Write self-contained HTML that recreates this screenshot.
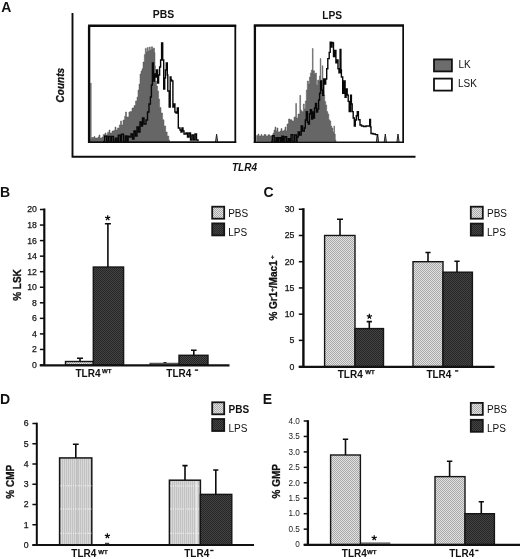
<!DOCTYPE html>
<html><head><meta charset="utf-8"><title>Figure</title>
<style>
html,body{margin:0;padding:0;background:#fff;}
body{width:520px;height:559px;overflow:hidden;font-family:"Liberation Sans",sans-serif;}
svg{display:block;font-family:"Liberation Sans",sans-serif;fill:#111;will-change:transform;-webkit-font-smoothing:antialiased;}
.tk{fill:#141414;stroke:#141414;stroke-width:0.25px;}
.tk0{fill:#1c1c1c;}
</style></head><body>
<svg width="520" height="559" viewBox="0 0 520 559">
<defs>
<pattern id="pl" width="2" height="2" patternUnits="userSpaceOnUse"><rect width="2" height="2" fill="#e2e2e2"/><rect width="1" height="1" fill="#a8a8a8"/><rect x="1" y="1" width="1" height="1" fill="#a8a8a8"/></pattern>
<pattern id="pd" width="2" height="2" patternUnits="userSpaceOnUse"><rect width="2" height="2" fill="#444"/><rect width="1" height="1" fill="#262626"/><rect x="1" y="1" width="1" height="1" fill="#262626"/></pattern>
<pattern id="pv" width="2" height="2" patternUnits="userSpaceOnUse"><rect width="2" height="2" fill="#d8d8d8"/><rect width="1" height="2" fill="#c2c2c2"/></pattern>
</defs>
<rect width="520" height="559" fill="#fff"/>

<g id="A">
<text x="1.2" y="11.5" font-size="14" font-weight="bold">A</text>
<path d="M72.5,13V156.8H415.5" stroke="#0c0c0c" stroke-width="1.9" fill="none"/>
<text transform="translate(63.5,85.2) rotate(-90)" font-size="10" font-weight="bold" text-anchor="middle" stroke="#111" stroke-width="0.3" font-style="italic">Counts</text>
<text x="163.4" y="18.1" font-size="10.4" font-weight="bold" text-anchor="middle">PBS</text>
<text x="332.2" y="18.6" font-size="10.2" font-weight="bold" text-anchor="middle">LPS</text>
<text x="232" y="171" font-size="10" font-weight="bold" font-style="italic">TLR4</text>
<path d="M90.6,141.4V139.0H91.5V137.5H94.0V136.5H95.0V138.0H98.0V137.0H99.0V135.0H100.0V138.0H102.0V137.0H103.2V134.6H105.0V133.0H106.0V135.0H107.5V132.4H109.0V130.0H110.0V133.0H112.0V131.0H113.9V130.3H115.0V127.0H116.0V130.0H117.5V128.0H119.3V124.9H120.5V121.0H121.5V125.0H123.0V120.0H124.6V116.3H125.5V112.0H126.5V117.0H128.9V112.0H130.0V111.6H132.0V108.0H134.0V105.5H135.5V101.0H137.0V97.0H138.0V90.0H139.0V84.0H140.0V74.0H141.0V71.0H142.0V68.8H143.0V62.0H144.3V54.5H145.3V48.4H146.3V52.0H147.2V47.5H148.2V51.0H149.3V47.0H150.3V50.0H151.4V46.8H152.6V49.0H153.6V48.0H154.5V52.5H155.0V66.0H155.5V81.0H156.5V86.0H157.5V91.0H158.6V99.0H159.6V107.5H161.0V113.0H162.6V119.8H164.0V126.0H165.7V132.0H167.2V136.0H168.8V140.0H169.5V141.0V141.4Z" fill="#666" stroke="#5a5a5a" stroke-width="0.5"/>
<path d="M90.9,141.4V83" stroke="#6a6a6a" stroke-width="1.3"/>
<path d="M103.0,141.4H104.7V136.2H106.7V141.4H108.3V136.4H110.1V141.4H111.6V136.4H113.4V141.4H115.3V138.2H116.8V141.4H118.3V135.1H120.1V141.4H121.5V134.3H123.5V141.4H125.3V135.9H126.8V141.4H128.1V136.3H129.0V137.0H131.0V134.0H132.5V139.0H134.0V131.0H135.5V136.0H137.0V127.0H138.5V132.0H140.0V122.0H141.5V126.0H142.5V118.0H144.0V124.0H146.0V120.0H147.5V112.0H149.0V104.0H150.4V97.0H151.4V85.0H152.4V63.0H153.4V81.0H154.5V74.0H155.5V77.0H156.5V70.0H157.6V83.0H158.6V75.0H159.6V67.0H160.6V60.0H161.6V43.0H162.7V60.0H163.7V89.0H164.7V78.0H165.5V70.0H166.3V63.0H167.3V75.0H167.8V91.0H169.2V107.0H170.2V77.0H171.0V80.0H171.8V81.0H172.9V107.0H174.0V104.0H174.9V112.0H176.0V113.0H177.3V108.0H178.3V128.0H180.0V130.0H181.0V132.0H182.0V128.0H183.0V131.0H184.0V134.0H186.0V133.0H187.5V137.0H189.0V133.0H190.5V140.0H192.0V135.0H193.5V140.0H195.0V134.0H196.5V140.0H198.0V141.0" fill="none" stroke="#080808" stroke-width="1.4"/>
<path d="M215.5,142L216.6,134.2L217.7,142" fill="#999" stroke="#111" stroke-width="0.9"/>
<path d="M256.6,141.4V135.5H258.0V134.0H259.0V136.0H261.0V134.5H262.0V136.0H264.0V134.5H266.0V136.0H268.0V134.8H270.0V136.0H272.0V135.0H273.0V133.0H274.0V130.0H275.0V127.0H276.0V131.0H277.0V128.0H278.0V132.0H280.0V131.0H281.0V128.5H282.0V131.0H284.0V130.0H285.0V127.0H286.0V131.0H287.0V124.0H288.5V119.0H290.0V119.8H292.0V121.0H294.0V117.0H295.7V103.5H296.5V118.0H298.0V114.0H299.8V95.3H300.6V110.0H301.5V111.6H303.3V104.0H304.3V109.0H305.3V101.0H306.3V90.0H307.3V81.0H308.4V84.0H309.4V77.0H310.4V72.9H311.4V70.0H312.4V48.4H313.1V70.8H314.5V74.0H315.5V73.0H316.5V85.0H317.6V80.0H318.6V81.0H319.4V76.0H320.2V58.6H320.9V83.0H321.6V80.0H322.2V65.7H322.9V91.0H323.8V95.0H324.7V101.4H325.7V105.0H326.7V111.6H327.8V114.0H328.8V119.8H329.8V121.0H330.8V126.0H331.8V128.0H332.9V132.0H333.9V126.0H334.5V134.0H335.3V140.0H336.0V141.0V141.4Z" fill="#666" stroke="#5a5a5a" stroke-width="0.5"/>
<path d="M271.0,141.4H272.4V135.6H274.2V141.4H276.0V137.8H277.4V141.4H278.8V137.7H280.5V141.4H281.9V136.3H283.3V141.4H284.8V136.8H286.6V141.4H288.3V138.6H289.7V141.4H291.1V134.8H292.9V141.4H294.7V135.0H296.5V141.4H297.0V137.0H298.2V132.0H299.6V135.0H301.2V126.0H302.6V131.0H304.3V128.0H305.3V120.0H306.3V111.6H307.4V122.0H308.4V124.0H309.4V114.0H310.4V109.6H311.6V119.0H312.6V112.0H313.5V118.0H314.5V108.0H315.5V103.5H316.5V112.0H317.6V109.0H318.6V100.0H319.6V93.3H320.6V81.0H321.6V90.0H322.7V95.3H323.7V79.0H324.7V84.0H325.7V79.0H326.7V68.8H327.8V58.6H329.2V52.4H330.2V42.2H331.2V47.0H331.9V42.5H332.9V43.0H333.5V56.5H334.9V50.4H335.9V62.7H337.0V60.0H338.0V68.8H339.0V72.9H340.1V49.4H340.9V70.0H341.4V77.0H342.7V93.3H344.0V81.0H345.1V97.3H346.1V89.0H347.2V95.0H348.2V101.4H349.2V111.6H350.6V95.3H351.4V104.0H352.2V111.6H353.2V118.0H354.3V126.0H355.3V120.0H356.3V115.7H357.3V111.6H358.4V119.8H360.0V125.0H361.5V126.0H363.6V126.5H366.0V126.0H369.0V126.0H369.7V119.5H370.5V127.0H371.0V133.5H373.0V134.0H375.4V134.6H377.5V141.0" fill="none" stroke="#080808" stroke-width="1.4"/>
<path d="M376.4,142L377.5,134L378.6,142M384.2,142L385.3,134L386.4,142M396.9,142L398,134L399.1,142" fill="#999" stroke="#111" stroke-width="0.9"/>
<path d="M89.1,143V25.8" stroke="#0c0c0c" stroke-width="2.4" fill="none"/><path d="M88.1,25.8H236.2" stroke="#0c0c0c" stroke-width="2.4"/><path d="M235.3,25V143" stroke="#0c0c0c" stroke-width="1.8"/><path d="M88.1,142.1H236.2" stroke="#0c0c0c" stroke-width="1.8"/>
<path d="M254.9,143V25.5" stroke="#0c0c0c" stroke-width="2.3" fill="none"/><path d="M253.8,25.5H404" stroke="#0c0c0c" stroke-width="2.4"/><path d="M403.15,25V143" stroke="#0c0c0c" stroke-width="1.7"/><path d="M253.8,142.3H404" stroke="#0c0c0c" stroke-width="1.6"/>
<rect x="434" y="59.4" width="17.9" height="12" fill="#6c6c6c" stroke="#111" stroke-width="1.8"/>
<rect x="434" y="78.6" width="17.9" height="12" fill="#fff" stroke="#111" stroke-width="1.8"/>
<text x="458.4" y="67.6" font-size="10">LK</text><text x="458" y="87" font-size="10">LSK</text>
</g>
<g id="B">
<text x="-0.1" y="196.6" font-size="14" font-weight="bold">B</text>
<rect x="65.5" y="361.50125" width="27.799999999999997" height="3.4987499999999727" fill="url(#pl)" stroke="#151515" stroke-width="1.4"/>
<path d="M80,361.5V358.3M77,358.3H83" stroke="#0c0c0c" stroke-width="1.6" fill="none"/>
<rect x="93.3" y="267.03499999999997" width="30.299999999999997" height="97.96500000000003" fill="url(#pd)" stroke="#151515" stroke-width="1.4"/>
<path d="M107.9,267V223.7M104.9,223.7H110.9" stroke="#0c0c0c" stroke-width="1.6" fill="none"/>
<path d="M107.70,218.00L107.70,215.30M107.70,218.00L110.27,217.17M107.70,218.00L109.29,220.18M107.70,218.00L106.11,220.18M107.70,218.00L105.13,217.17" stroke="#0c0c0c" stroke-width="1.25" fill="none"/><circle cx="107.7" cy="218" r="0.9" fill="#0c0c0c"/>
<rect x="150" y="363.2" width="29" height="1.8" fill="#999" stroke="#222" stroke-width="0.8"/>
<path d="M163.5,362.6H166.5" stroke="#111" stroke-width="1"/>
<rect x="179" y="355.28125" width="29" height="9.71875" fill="url(#pd)" stroke="#151515" stroke-width="1.4"/>
<path d="M193.8,355.5V350.2M191.0,350.2H196.60000000000002" stroke="#0c0c0c" stroke-width="1.6" fill="none"/>
<path d="M44.3,208.5V365.0" stroke="#0c0c0c" stroke-width="2.2" fill="none"/>
<path d="M39.9,365.00H44.3" stroke="#0c0c0c" stroke-width="1.5"/>
<text x="36.8" y="367.93" font-size="8.7" text-anchor="end" class="tk">0</text>
<path d="M39.9,349.45H44.3" stroke="#0c0c0c" stroke-width="1.5"/>
<text x="36.8" y="352.38" font-size="8.7" text-anchor="end" class="tk">2</text>
<path d="M39.9,333.90H44.3" stroke="#0c0c0c" stroke-width="1.5"/>
<text x="36.8" y="336.83" font-size="8.7" text-anchor="end" class="tk">4</text>
<path d="M39.9,318.35H44.3" stroke="#0c0c0c" stroke-width="1.5"/>
<text x="36.8" y="321.28" font-size="8.7" text-anchor="end" class="tk">6</text>
<path d="M39.9,302.80H44.3" stroke="#0c0c0c" stroke-width="1.5"/>
<text x="36.8" y="305.73" font-size="8.7" text-anchor="end" class="tk">8</text>
<path d="M39.9,287.25H44.3" stroke="#0c0c0c" stroke-width="1.5"/>
<text x="36.8" y="290.18" font-size="8.7" text-anchor="end" class="tk">10</text>
<path d="M39.9,271.70H44.3" stroke="#0c0c0c" stroke-width="1.5"/>
<text x="36.8" y="274.63" font-size="8.7" text-anchor="end" class="tk">12</text>
<path d="M39.9,256.15H44.3" stroke="#0c0c0c" stroke-width="1.5"/>
<text x="36.8" y="259.08" font-size="8.7" text-anchor="end" class="tk">14</text>
<path d="M39.9,240.60H44.3" stroke="#0c0c0c" stroke-width="1.5"/>
<text x="36.8" y="243.53" font-size="8.7" text-anchor="end" class="tk">16</text>
<path d="M39.9,225.05H44.3" stroke="#0c0c0c" stroke-width="1.5"/>
<text x="36.8" y="227.98" font-size="8.7" text-anchor="end" class="tk">18</text>
<path d="M39.9,209.50H44.3" stroke="#0c0c0c" stroke-width="1.5"/>
<text x="36.8" y="212.43" font-size="8.7" text-anchor="end" class="tk">20</text>
<path d="M39.8,365.3H229.5" stroke="#111" stroke-width="2.2"/>
<text transform="translate(21.3,285) rotate(-90)" font-size="10" font-weight="bold" text-anchor="middle" stroke="#111" stroke-width="0.3">% LSK</text>
<text x="75.5" y="376.8" font-size="10" font-weight="bold">TLR4<tspan dx="1.5" dy="-3.5" font-size="6.1" stroke="#111" stroke-width="0.25">WT</tspan></text>
<text x="166.3" y="376.8" font-size="10" font-weight="bold">TLR4</text><path d="M194.8,370.1h3.3" stroke="#111" stroke-width="1.4"/>
<rect x="212.20" y="206.70" width="12.00" height="12.00" fill="url(#pl)" stroke="#151515" stroke-width="1.8"/>
<rect x="212.20" y="223.40" width="12.00" height="12.00" fill="url(#pd)" stroke="#151515" stroke-width="1.8"/>
<text x="228.2" y="216.5" font-size="10">PBS</text>
<text x="228.2" y="235.7" font-size="10">LPS</text>
</g>
<g id="C">
<text x="263.5" y="197.1" font-size="14" font-weight="bold">C</text>
<rect x="324.6" y="235.47500000000002" width="30.399999999999977" height="131.125" fill="url(#pl)" stroke="#151515" stroke-width="1.4"/>
<path d="M340,235V219.3M337,219.3H343" stroke="#0c0c0c" stroke-width="1.6" fill="none"/>
<rect x="355" y="328.57375" width="28.5" height="38.026250000000005" fill="url(#pd)" stroke="#151515" stroke-width="1.4"/>
<path d="M369.3,328.5V321.6M366.7,321.6H371.90000000000003" stroke="#0c0c0c" stroke-width="1.6" fill="none"/>
<path d="M369.40,316.50L369.40,313.80M369.40,316.50L371.97,315.67M369.40,316.50L370.99,318.68M369.40,316.50L367.81,318.68M369.40,316.50L366.83,315.67" stroke="#0c0c0c" stroke-width="1.25" fill="none"/><circle cx="369.4" cy="316.5" r="0.9" fill="#0c0c0c"/>
<rect x="413" y="261.70000000000005" width="30" height="104.89999999999998" fill="url(#pl)" stroke="#151515" stroke-width="1.4"/>
<path d="M428,261.5V252.5M425.4,252.5H430.6" stroke="#0c0c0c" stroke-width="1.6" fill="none"/>
<rect x="443" y="272.19000000000005" width="29.399999999999977" height="94.40999999999997" fill="url(#pd)" stroke="#151515" stroke-width="1.4"/>
<path d="M457,272V261.3M454.4,261.3H459.6" stroke="#0c0c0c" stroke-width="1.6" fill="none"/>
<path d="M303.4,208.2V366.6" stroke="#0c0c0c" stroke-width="2.4" fill="none"/>
<path d="M298.79999999999995,366.60H303.4" stroke="#0c0c0c" stroke-width="1.5"/>
<text x="294.3" y="369.53" font-size="8.7" text-anchor="end" class="tk">0</text>
<path d="M298.79999999999995,340.38H303.4" stroke="#0c0c0c" stroke-width="1.5"/>
<text x="294.3" y="343.31" font-size="8.7" text-anchor="end" class="tk">5</text>
<path d="M298.79999999999995,314.15H303.4" stroke="#0c0c0c" stroke-width="1.5"/>
<text x="294.3" y="317.08" font-size="8.7" text-anchor="end" class="tk">10</text>
<path d="M298.79999999999995,287.93H303.4" stroke="#0c0c0c" stroke-width="1.5"/>
<text x="294.3" y="290.86" font-size="8.7" text-anchor="end" class="tk">15</text>
<path d="M298.79999999999995,261.70H303.4" stroke="#0c0c0c" stroke-width="1.5"/>
<text x="294.3" y="264.63" font-size="8.7" text-anchor="end" class="tk">20</text>
<path d="M298.79999999999995,235.48H303.4" stroke="#0c0c0c" stroke-width="1.5"/>
<text x="294.3" y="238.41" font-size="8.7" text-anchor="end" class="tk">25</text>
<path d="M298.79999999999995,209.25H303.4" stroke="#0c0c0c" stroke-width="1.5"/>
<text x="294.3" y="212.18" font-size="8.7" text-anchor="end" class="tk">30</text>
<path d="M298.8,366.8H494.5" stroke="#111" stroke-width="2.2"/>
<text transform="translate(277,288) rotate(-90)" font-size="10" font-weight="bold" text-anchor="middle" stroke="#111" stroke-width="0.3">% Gr1<tspan font-size="6" dy="-3.5">+</tspan><tspan dy="3.5">/Mac1</tspan><tspan font-size="6" dy="-3.5" dx="1.5">+</tspan></text>
<text x="337.7" y="377.6" font-size="10" font-weight="bold">TLR4<tspan dx="2.6" dy="-3.5" font-size="6.1" stroke="#111" stroke-width="0.25">WT</tspan></text>
<text x="426.4" y="377.6" font-size="10" font-weight="bold">TLR4</text><path d="M455.0,370.90000000000003h3.3" stroke="#111" stroke-width="1.4"/>
<rect x="470.80" y="206.70" width="12.00" height="12.00" fill="url(#pl)" stroke="#151515" stroke-width="1.8"/>
<rect x="470.80" y="223.60" width="12.00" height="12.00" fill="url(#pd)" stroke="#151515" stroke-width="1.8"/>
<text x="487" y="216.5" font-size="10">PBS</text>
<text x="487" y="235.6" font-size="10">LPS</text>
</g>
<g id="D">
<text x="-0.1" y="403.5" font-size="14" font-weight="bold">D</text>
<rect x="59.6" y="457.925" width="32.2" height="87.075" fill="url(#pv)" stroke="#151515" stroke-width="1.5"/>
<path d="M77.2,458.925V545.0" stroke="#b8b8b8" stroke-width="0.8"/>
<path d="M60.5,485.8H91.4" stroke="#f6f6f6" stroke-width="1" stroke-dasharray="1.2,1.3"/>
<path d="M60.5,509H91.4" stroke="#f6f6f6" stroke-width="1" stroke-dasharray="1.2,1.3"/>
<path d="M60.5,533.3H91.4" stroke="#f6f6f6" stroke-width="1" stroke-dasharray="1.2,1.3"/>
<path d="M75.8,458V444.3M72.89999999999999,444.3H78.7" stroke="#0c0c0c" stroke-width="1.6" fill="none"/>
<path d="M105,543.3H109.2" stroke="#111" stroke-width="1"/>
<path d="M107.40,536.00L107.40,533.30M107.40,536.00L109.97,535.17M107.40,536.00L108.99,538.18M107.40,536.00L105.81,538.18M107.40,536.00L104.83,535.17" stroke="#0c0c0c" stroke-width="1.25" fill="none"/><circle cx="107.4" cy="536" r="0.9" fill="#0c0c0c"/>
<rect x="169.4" y="480.2" width="31" height="64.8" fill="url(#pv)" stroke="#151515" stroke-width="1.5"/>
<path d="M196.3,481.2V545.0" stroke="#f6f6f6" stroke-width="0.9"/>
<path d="M170.3,486H199.6" stroke="#f6f6f6" stroke-width="1" stroke-dasharray="1.2,1.3"/>
<path d="M170.3,509H199.6" stroke="#f6f6f6" stroke-width="1" stroke-dasharray="1.2,1.3"/>
<path d="M170.3,533.3H199.6" stroke="#f6f6f6" stroke-width="1" stroke-dasharray="1.2,1.3"/>
<path d="M185,480V465.6M182.4,465.6H187.6" stroke="#0c0c0c" stroke-width="1.6" fill="none"/>
<rect x="200.4" y="494.375" width="31.400000000000006" height="50.625" fill="url(#pd)" stroke="#151515" stroke-width="1.4"/>
<path d="M215.8,494V470M213.20000000000002,470H218.4" stroke="#0c0c0c" stroke-width="1.6" fill="none"/>
<path d="M36.8,422.7V545.0" stroke="#0c0c0c" stroke-width="2.0" fill="none"/>
<path d="M32.4,545.00H36.8" stroke="#0c0c0c" stroke-width="1.5"/>
<text x="28.7" y="547.93" font-size="8.7" text-anchor="end" class="tk">0</text>
<path d="M32.4,524.75H36.8" stroke="#0c0c0c" stroke-width="1.5"/>
<text x="28.7" y="527.68" font-size="8.7" text-anchor="end" class="tk">1</text>
<path d="M32.4,504.50H36.8" stroke="#0c0c0c" stroke-width="1.5"/>
<text x="28.7" y="507.43" font-size="8.7" text-anchor="end" class="tk">2</text>
<path d="M32.4,484.25H36.8" stroke="#0c0c0c" stroke-width="1.5"/>
<text x="28.7" y="487.18" font-size="8.7" text-anchor="end" class="tk">3</text>
<path d="M32.4,464.00H36.8" stroke="#0c0c0c" stroke-width="1.5"/>
<text x="28.7" y="466.93" font-size="8.7" text-anchor="end" class="tk">4</text>
<path d="M32.4,443.75H36.8" stroke="#0c0c0c" stroke-width="1.5"/>
<text x="28.7" y="446.68" font-size="8.7" text-anchor="end" class="tk">5</text>
<path d="M32.4,423.50H36.8" stroke="#0c0c0c" stroke-width="1.5"/>
<text x="28.7" y="426.43" font-size="8.7" text-anchor="end" class="tk">6</text>
<path d="M32.4,545.0H254" stroke="#111" stroke-width="2.2"/>
<text transform="translate(14,481.8) rotate(-90)" font-size="10" font-weight="bold" text-anchor="middle" stroke="#111" stroke-width="0.3">% CMP</text>
<text x="71.3" y="557" font-size="10" font-weight="bold">TLR4<tspan dx="2" dy="-3.5" font-size="6.1" stroke="#111" stroke-width="0.25">WT</tspan></text>
<text x="184.2" y="557.2" font-size="10" font-weight="bold">TLR4</text><path d="M210.2,550.5h3.3" stroke="#111" stroke-width="1.4"/>
<rect x="212.20" y="402.30" width="12.00" height="12.00" fill="url(#pl)" stroke="#151515" stroke-width="1.8"/>
<rect x="212.20" y="419.00" width="12.00" height="12.00" fill="url(#pd)" stroke="#151515" stroke-width="1.8"/>
<text x="228.5" y="412.9" font-size="10" font-weight="bold">PBS</text>
<text x="228.5" y="431.8" font-size="10">LPS</text>
</g>
<g id="E">
<text x="262.8" y="403.7" font-size="14" font-weight="bold">E</text>
<rect x="330.6" y="454.99" width="29.799999999999955" height="89.61000000000001" fill="url(#pl)" stroke="#151515" stroke-width="1.4"/>
<path d="M345.5,455V439.3M342.8,439.3H348.2" stroke="#0c0c0c" stroke-width="1.6" fill="none"/>
<path d="M360.4,543.1H390.3" stroke="#222" stroke-width="1"/>
<path d="M374.20,538.00L374.20,535.30M374.20,538.00L376.77,537.17M374.20,538.00L375.79,540.18M374.20,538.00L372.61,540.18M374.20,538.00L371.63,537.17" stroke="#0c0c0c" stroke-width="1.25" fill="none"/><circle cx="374.2" cy="538" r="0.9" fill="#0c0c0c"/>
<rect x="435" y="476.62" width="30" height="67.98000000000002" fill="url(#pl)" stroke="#151515" stroke-width="1.4"/>
<path d="M449.6,476.5V461.3M446.90000000000003,461.3H452.3" stroke="#0c0c0c" stroke-width="1.6" fill="none"/>
<rect x="465" y="513.7" width="29.399999999999977" height="30.899999999999977" fill="url(#pd)" stroke="#151515" stroke-width="1.4"/>
<path d="M481.3,513.5V501.8M478.7,501.8H483.90000000000003" stroke="#0c0c0c" stroke-width="1.6" fill="none"/>
<path d="M307.9,420.2V544.6" stroke="#0c0c0c" stroke-width="2.3" fill="none"/>
<path d="M303.7,544.60H307.9" stroke="#0c0c0c" stroke-width="1.5"/>
<text x="299.9" y="547.35" font-size="8.2" text-anchor="end" class="tk0">0</text>
<path d="M303.7,529.15H307.9" stroke="#0c0c0c" stroke-width="1.5"/>
<text x="299.9" y="531.90" font-size="8.2" text-anchor="end" class="tk0">0.5</text>
<path d="M303.7,513.70H307.9" stroke="#0c0c0c" stroke-width="1.5"/>
<text x="299.9" y="516.45" font-size="8.2" text-anchor="end" class="tk0">1.0</text>
<path d="M303.7,498.25H307.9" stroke="#0c0c0c" stroke-width="1.5"/>
<text x="299.9" y="501.00" font-size="8.2" text-anchor="end" class="tk0">1.5</text>
<path d="M303.7,482.80H307.9" stroke="#0c0c0c" stroke-width="1.5"/>
<text x="299.9" y="485.55" font-size="8.2" text-anchor="end" class="tk0">2.0</text>
<path d="M303.7,467.35H307.9" stroke="#0c0c0c" stroke-width="1.5"/>
<text x="299.9" y="470.10" font-size="8.2" text-anchor="end" class="tk0">2.5</text>
<path d="M303.7,451.90H307.9" stroke="#0c0c0c" stroke-width="1.5"/>
<text x="299.9" y="454.65" font-size="8.2" text-anchor="end" class="tk0">3.0</text>
<path d="M303.7,436.45H307.9" stroke="#0c0c0c" stroke-width="1.5"/>
<text x="299.9" y="439.20" font-size="8.2" text-anchor="end" class="tk0">3.5</text>
<path d="M303.7,421.00H307.9" stroke="#0c0c0c" stroke-width="1.5"/>
<text x="299.9" y="423.75" font-size="8.2" text-anchor="end" class="tk0">4.0</text>
<path d="M303.7,544.9H520" stroke="#111" stroke-width="2.2"/>
<text transform="translate(280.2,481.2) rotate(-90)" font-size="10" font-weight="bold" text-anchor="middle" stroke="#111" stroke-width="0.3">% GMP</text>
<text x="341.8" y="557" font-size="10" font-weight="bold">TLR4<tspan dx="0.3" dy="-3.5" font-size="6.1" stroke="#111" stroke-width="0.25">WT</tspan></text>
<text x="449.2" y="557.2" font-size="10" font-weight="bold">TLR4</text><path d="M475.2,550.5h3.3" stroke="#111" stroke-width="1.4"/>
<rect x="470.80" y="402.90" width="12.00" height="12.00" fill="url(#pl)" stroke="#151515" stroke-width="1.8"/>
<rect x="470.80" y="419.80" width="12.00" height="12.00" fill="url(#pd)" stroke="#151515" stroke-width="1.8"/>
<text x="487" y="412.9" font-size="10">PBS</text>
<text x="487" y="431.7" font-size="10">LPS</text>
</g>
</svg>
</body></html>
